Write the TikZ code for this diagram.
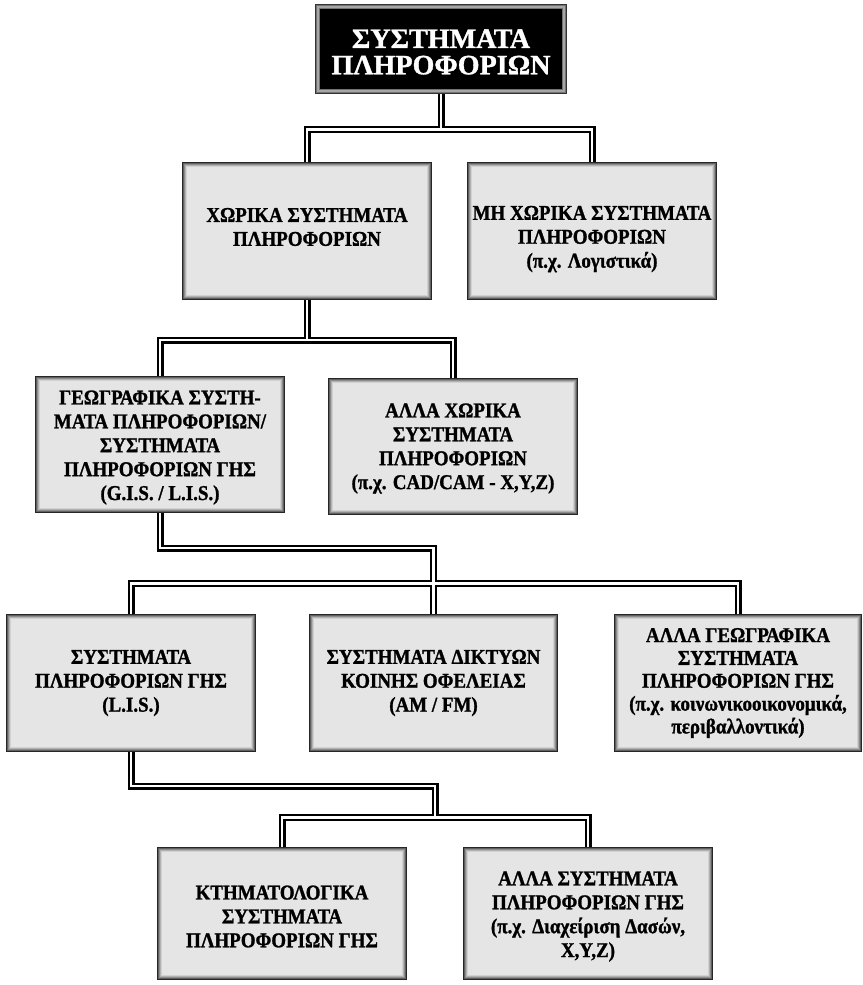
\documentclass[tikz,border=0pt]{standalone}
\usepackage{fontspec}
\setmainfont{Liberation Serif}[BoldFeatures={FakeBold=1.2}]
\newfontfamily\cfont{Liberation Serif}[FakeStretch=0.9, BoldFeatures={FakeBold=1.2}]
\usetikzlibrary{calc}
\newcommand\bevelbox[2]{%
  \fill[black!85] (#1.north west) rectangle (#1.south east);
  \fill[black!62] ($(#1.north west)+(1.5,1.5)$) rectangle ($(#1.south east)+(-1.5,-1.5)$);
  \fill[black!45] ($(#1.north west)+(2.5,2.5)$) rectangle ($(#1.south east)+(-2.5,-2.5)$);
  \fill[black!30] ($(#1.north west)+(3.5,3.5)$) rectangle ($(#1.south east)+(-3.5,-3.5)$);
  \fill[black!18] ($(#1.north west)+(4.5,4.5)$) rectangle ($(#1.south east)+(-4.5,-4.5)$);
  \fill[#2] ($(#1.north west)+(5.5,5.5)$) rectangle ($(#1.south east)+(-5.5,-5.5)$);
}
\tikzset{
  bxs/.style={rectangle, inner sep=0pt, minimum width=5cm, minimum height=2.76cm},
  btxt/.style={align=center, inner sep=0pt, font=\cfont\bfseries\fontsize{12}{13.6}\selectfont},
  toptxt/.style={align=center, inner sep=0pt, text=white, font=\bfseries\fontsize{16}{15}\selectfont},
  cblack/.style={draw=black, line width=0.14cm, line join=miter, line cap=butt},
  cwhite/.style={draw=white, line width=0.055cm, line join=miter, line cap=butt},
}
\newcommand\allconns[1]{%
  \draw[#1] (top.south) -- (top.south |- y1);
  \draw[#1] (b2.north) |- (b3.north |- y1) -- (b3.north);
  \draw[#1] (b2.south) -- (b2.south |- y2);
  \draw[#1] (b4.north) |- (b5.north |- y2) -- (b5.north);
  \draw[#1] (b4.south) |- (b8.north |- y3a) -- (b8.north);
  \draw[#1] (b7.north) |- (b9.north |- y3) -- (b9.north);
  \draw[#1] (b7.south) |- (m4 |- y4a) -- (m4 |- y4);
  \draw[#1] (b10.north) |- (b11.north |- y4) -- (b11.north);
}
\begin{document}
\begin{tikzpicture}[x=0.02cm, y=-0.02cm]
\useasboundingbox (0,0) rectangle (863,985);
% box shapes
\node[bxs, minimum width=5.04cm, minimum height=1.8cm] (top) at (441,49) {};
\node[bxs] (b2) at (307,231) {};
\node[bxs] (b3) at (592,231) {};
\node[bxs, minimum height=2.74cm] (b4) at (160,444.5) {};
\node[bxs, minimum height=2.74cm] (b5) at (453,446.5) {};
\node[bxs] (b7) at (131,683) {};
\node[bxs, minimum width=4.98cm] (b8) at (433.5,683) {};
\node[bxs, minimum width=4.96cm] (b9) at (738,683) {};
\node[bxs, minimum height=2.66cm] (b10) at (282,913.5) {};
\node[bxs, minimum height=2.66cm] (b11) at (588,913.5) {};
% bus levels
\coordinate (y1) at (0,129.5);
\coordinate (y2) at (0,340);
\coordinate (y3a) at (0,548);
\coordinate (y3) at (0,583.5);
\coordinate (y4a) at (0,786);
\coordinate (y4) at (0,817.5);
\coordinate (m4) at ($(b10.north)!0.5!(b11.north)$);
% connectors: double lines
\allconns{cblack}
\allconns{cwhite}
% frames
\fill[black!80] (top.north west) rectangle (top.south east);
\fill[black!55] ($(top.north west)+(1.5,1.5)$) rectangle ($(top.south east)+(-1.5,-1.5)$);
\fill[black!35] ($(top.north west)+(2.5,2.5)$) rectangle ($(top.south east)+(-2.5,-2.5)$);
\fill[black!55] ($(top.north west)+(4,4)$) rectangle ($(top.south east)+(-4,-4)$);
\fill[black] ($(top.north west)+(5.5,5.5)$) rectangle ($(top.south east)+(-5.5,-5.5)$);
\bevelbox{b2}{black!10}
\bevelbox{b3}{black!10}
\bevelbox{b4}{black!10}
\bevelbox{b5}{black!10}
\bevelbox{b7}{black!10}
\bevelbox{b8}{black!10}
\bevelbox{b9}{black!10}
\bevelbox{b10}{black!10}
\bevelbox{b11}{black!10}
% texts
\node[toptxt] (t1) at ($(top.center)+(0,3)$) {ΣΥΣΤΗΜΑΤΑ\\ΠΛΗΡΟΦΟΡΙΩΝ};
\node[btxt] (t2) at ($(b2.center)+(0,-4)$) {ΧΩΡΙΚΑ ΣΥΣΤΗΜΑΤΑ\\ΠΛΗΡΟΦΟΡΙΩΝ};
\node[btxt] (t3) at ($(b3.center)+(0,8)$) {ΜΗ ΧΩΡΙΚΑ ΣΥΣΤΗΜΑΤΑ\\ΠΛΗΡΟΦΟΡΙΩΝ\\(π.χ. Λογιστικά)};
\node[btxt] (t4) at ($(b4.center)+(0,3)$) {ΓΕΩΓΡΑΦΙΚΑ ΣΥΣΤΗ-\\ΜΑΤΑ ΠΛΗΡΟΦΟΡΙΩΝ/\\ΣΥΣΤΗΜΑΤΑ\\ΠΛΗΡΟΦΟΡΙΩΝ ΓΗΣ\\(G.I.S. / L.I.S.)};
\node[btxt] (t5) at ($(b5.center)+(0,2)$) {ΑΛΛΑ ΧΩΡΙΚΑ\\ΣΥΣΤΗΜΑΤΑ\\ΠΛΗΡΟΦΟΡΙΩΝ\\(π.χ. CAD/CAM - X,Y,Z)};
\node[btxt] (t7) at (b7.center) {ΣΥΣΤΗΜΑΤΑ\\ΠΛΗΡΟΦΟΡΙΩΝ ΓΗΣ\\(L.I.S.)};
\node[btxt] (t8) at (b8.center) {ΣΥΣΤΗΜΑΤΑ ΔΙΚΤΥΩΝ\\ΚΟΙΝΗΣ ΟΦΕΛΕΙΑΣ\\(AM / FM)};
\node[btxt, font=\cfont\bfseries\fontsize{12}{13}\selectfont] (t9) at (b9.center) {ΑΛΛΑ ΓΕΩΓΡΑΦΙΚΑ\\ΣΥΣΤΗΜΑΤΑ\\ΠΛΗΡΟΦΟΡΙΩΝ ΓΗΣ\\(π.χ. κοινωνικοοικονομικά,\\περιβαλλοντικά)};
\node[btxt] (t10) at ($(b10.center)+(0,3)$) {ΚΤΗΜΑΤΟΛΟΓΙΚΑ\\ΣΥΣΤΗΜΑΤΑ\\ΠΛΗΡΟΦΟΡΙΩΝ ΓΗΣ};
\node[btxt] (t11) at ($(b11.center)+(0,3)$) {ΑΛΛΑ ΣΥΣΤΗΜΑΤΑ\\ΠΛΗΡΟΦΟΡΙΩΝ ΓΗΣ\\(π.χ. Διαχείριση Δασών,\\X,Y,Z)};
\end{tikzpicture}
\end{document}
